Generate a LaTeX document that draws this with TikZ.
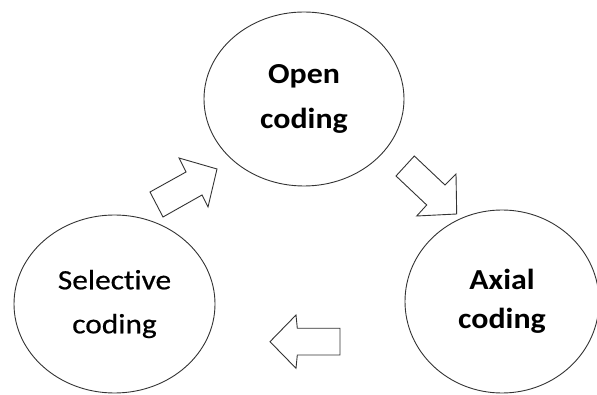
\documentclass[tikz,border=0pt]{standalone}
\usepackage{fontspec}
\setmainfont[FakeStretch=1.1,Ligatures=NoCommon]{Carlito}
\newfontfamily\selfont[FakeStretch=1.12,FakeBold=0.6,Ligatures=NoCommon]{Carlito}
\usetikzlibrary{shapes.geometric}
\begin{document}
\begin{tikzpicture}[x=1pt,y=-1pt,
  bubble/.style={draw=black!80,line width=0.9pt,ellipse,inner sep=0pt,align=center,text=black},
  blockarrow/.style={draw=black!80,line width=0.9pt,line join=miter,fill=white}]
\useasboundingbox (0,0) rectangle (597,395);
\node[bubble,minimum width=200pt,minimum height=174pt,font=\bfseries\fontsize{29}{45}\selectfont] (open) at (304,99) {Open\\coding};
\node[bubble,minimum width=201pt,minimum height=178pt,font=\selfont\fontsize{28}{44}\selectfont] (sel) at (114.5,304) {Selective\\coding};
\node[bubble,minimum width=194pt,minimum height=183pt,font=\bfseries\fontsize{29}{39}\selectfont] (axial) at (502,301.5) {Axial\\coding};
% arrow from selective to open
\draw[blockarrow] (150,192) -- (186,172) -- (179,158) -- (217,169) -- (208,207) -- (202,195) -- (163,217) -- cycle;
% arrow from open to axial
\draw[blockarrow] (414.3,156) -- (445,185) -- (456,174) -- (456.7,214) -- (416.7,216) -- (426.7,205) -- (396,176) -- cycle;
% arrow from axial to selective
\draw[blockarrow] (340,328.3) -- (297.3,328.3) -- (296,315) -- (270,341.7) -- (296,368.3) -- (297.3,355) -- (340,355) -- cycle;
\end{tikzpicture}
\end{document}
